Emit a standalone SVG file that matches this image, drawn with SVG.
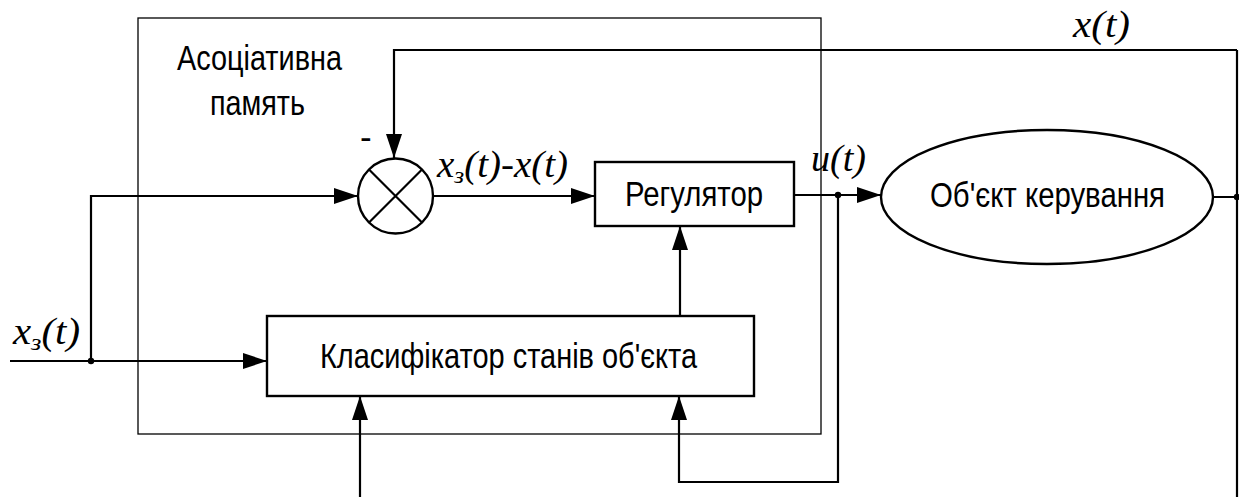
<svg xmlns="http://www.w3.org/2000/svg" width="1239" height="497" viewBox="0 0 1239 497">
<defs>
<marker id="arr" markerUnits="userSpaceOnUse" markerWidth="24" markerHeight="16" refX="24" refY="8" orient="auto" overflow="visible">
<path d="M0,0 L24,8 L0,16 Z" fill="#000"/>
</marker>
</defs>
<style>
.ln{fill:none;stroke:#000;stroke-width:2.2}
.bx{fill:#fff;stroke:#000;stroke-width:2.4}
.frame{fill:none;stroke:#000;stroke-width:1.3}
.sans{font-family:"Liberation Sans",Arial,sans-serif;font-size:35px;fill:#000}
.it{font-family:"Liberation Serif","Times New Roman",serif;font-style:italic;font-weight:normal;font-size:37px;fill:#000}
.dot{fill:#000}
</style>
<rect width="1239" height="497" fill="#fff"/>
<g id="memory">
<rect class="frame" x="138" y="18" width="683" height="416"/>
<text class="sans" x="177" y="70" textLength="165" lengthAdjust="spacingAndGlyphs">Асоціативна</text>
<text class="sans" x="210" y="115" textLength="95" lengthAdjust="spacingAndGlyphs">память</text>
</g>
<g id="connectors">
<path class="ln" d="M1237,50 H394 V158" marker-end="url(#arr)"/>
<path class="ln" d="M10,361 H267" marker-end="url(#arr)"/>
<path class="ln" d="M91,361 V196 H358" marker-end="url(#arr)"/>
<path class="ln" d="M433,196 H595" marker-end="url(#arr)"/>
<path class="ln" d="M794,195 H881" marker-end="url(#arr)"/>
<path class="ln" d="M680,316 V226" marker-end="url(#arr)"/>
<path class="ln" d="M360,497 V396" marker-end="url(#arr)"/>
<path class="ln" d="M838,195 V482 H679 V396" marker-end="url(#arr)"/>
<path class="ln" d="M1213,197 H1237 M1237,50 V497"/>
<circle class="dot" cx="91" cy="361" r="3.2"/>
<circle class="dot" cx="838" cy="195" r="3.2"/>
<circle class="dot" cx="1237" cy="197" r="3.2"/>
<text class="sans" x="360" y="149">-</text>
<text class="it" x="1073" y="37" textLength="57" lengthAdjust="spacingAndGlyphs">x(t)</text>
<text class="it" x="437" y="177" textLength="131" lengthAdjust="spacingAndGlyphs">x<tspan font-size="24" dy="6">з</tspan><tspan dy="-6">(t)-x(t)</tspan></text>
<text class="it" x="811" y="171" textLength="55" lengthAdjust="spacingAndGlyphs">u(t)</text>
<text class="it" x="13" y="344" textLength="67" lengthAdjust="spacingAndGlyphs">x<tspan font-size="24" dy="6">з</tspan><tspan dy="-6">(t)</tspan></text>
</g>
<g id="summator">
<circle cx="395.5" cy="196" r="37.5" fill="#fff" stroke="#000" stroke-width="2.4"/>
<path class="ln" d="M369,169.5 L422,222.5 M422,169.5 L369,222.5"/>
</g>
<g id="regulator">
<rect class="bx" x="595" y="162" width="199" height="64"/>
<text class="sans" x="625" y="206" textLength="138" lengthAdjust="spacingAndGlyphs">Регулятор</text>
</g>
<g id="object">
<ellipse cx="1047" cy="197" rx="166" ry="67" fill="#fff" stroke="#000" stroke-width="2.4"/>
<text class="sans" x="930" y="207" textLength="235" lengthAdjust="spacingAndGlyphs">Об'єкт керування</text>
</g>
<g id="classifier">
<rect class="bx" x="267" y="316" width="487" height="80"/>
<text class="sans" x="320" y="368" textLength="377" lengthAdjust="spacingAndGlyphs">Класифікатор станів об'єкта</text>
</g>
</svg>
